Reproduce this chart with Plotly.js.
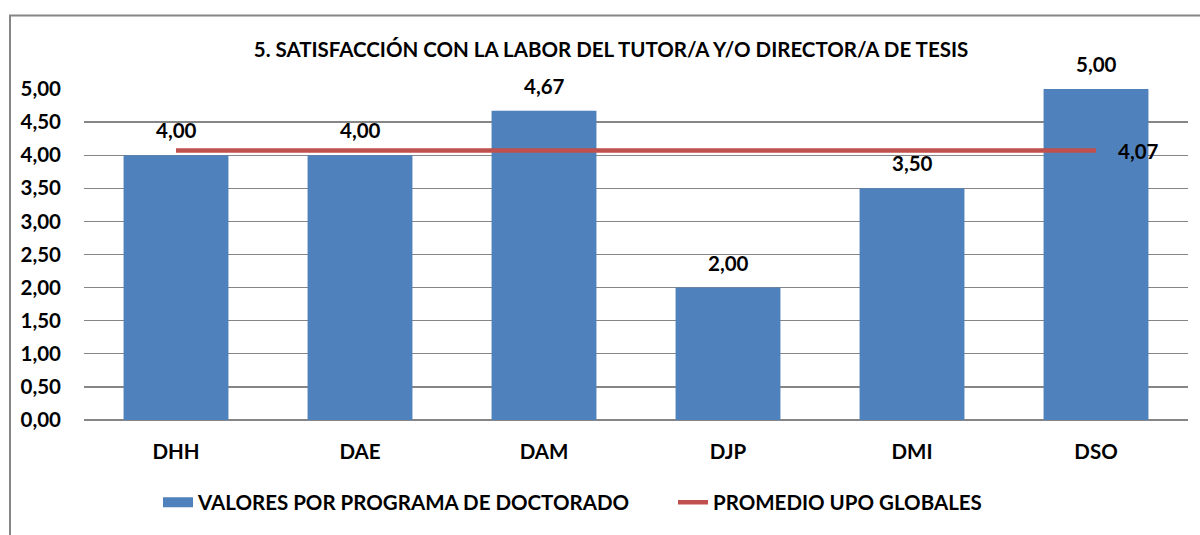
<!DOCTYPE html>
<html>
<head>
<meta charset="utf-8">
<script src="https://cdn.plot.ly/plotly-3.0.1.min.js"></script>
<style>
html,body{margin:0;padding:0;background:#fff;}
#chart{width:1200px;height:535px;}
</style>
</head>
<body>
<div id="chart"></div>
<script>
const categories = ["DHH", "DAE", "DAM", "DJP", "DMI", "DSO"];
const programValues = [4.00, 4.00, 4.67, 2.00, 3.50, 5.00];
const globalAverage = 4.07;
const yTickValues = [0, 0.5, 1, 1.5, 2, 2.5, 3, 3.5, 4, 4.5, 5];
const chartTitle = "5. SATISFACCIÓN CON LA LABOR DEL TUTOR/A Y/O DIRECTOR/A DE TESIS";
const seriesNames = ["VALORES POR PROGRAMA DE DOCTORADO", "PROMEDIO UPO GLOBALES"];

const fmt = v => v.toFixed(2).replace(".", ",");
const FONT = "Lato, 'Open Sans', sans-serif";
const FS = 20.5;
const BLUE = "#4F81BD", RED = "#C0504D";

const bars = {
  type: "bar",
  x: categories,
  y: programValues,
  name: seriesNames[0],
  marker: {color: BLUE},
  showlegend: false,
  hoverinfo: "skip"
};

// legend entry for bars, drawn as a wide block
const barsLegend = {
  type: "scatter",
  mode: "lines",
  x: [null], y: [null],
  name: seriesNames[0],
  line: {color: BLUE, width: 13},
  hoverinfo: "skip"
};

const avgLine = {
  type: "scatter",
  mode: "lines",
  x: categories,
  y: categories.map(() => globalAverage),
  name: seriesNames[1],
  line: {color: RED, width: 4.5},
  hoverinfo: "skip"
};

const labelAnnotations = categories.map((c, i) => ({
  x: c, y: programValues[i], xref: "x", yref: "y",
  text: fmt(programValues[i]),
  showarrow: false, xanchor: "center", yanchor: "bottom", yshift: 11,
  font: {family: FONT, size: FS, color: "#000", weight: "bold"}
}));

const layout = {
  width: 1200,
  height: 535,
  margin: {l: 84, r: 12, t: 89, b: 113},
  paper_bgcolor: "#fff",
  plot_bgcolor: "#fff",
  bargap: 0.43,
  showlegend: true,
  font: {family: FONT, color: "#000"},
  title: {
    text: chartTitle,
    font: {family: FONT, size: 20.5, color: "#000", weight: "bold"},
    x: 611 / 1200, xanchor: "center",
    y: 1 - 50 / 535, yanchor: "middle",
    xref: "container", yref: "container"
  },
  xaxis: {
    type: "category",
    tickfont: {family: FONT, size: FS, color: "#000", weight: "bold"},
    showgrid: false,
    showline: false,
    ticks: "",
    ticklabelstandoff: 17
  },
  yaxis: {
    range: [0, 5],
    tickvals: yTickValues,
    ticktext: yTickValues.map(fmt),
    tickfont: {family: FONT, size: FS, color: "#000", weight: "bold"},
    showgrid: true,
    gridcolor: "#868686",
    gridwidth: 1.3,
    zeroline: true,
    zerolinecolor: "#868686",
    zerolinewidth: 1.3,
    showline: false,
    ticks: "",
    ticklabelstandoff: 22
  },
  legend: {
    orientation: "h",
    x: 1, xanchor: "right",
    y: -0.249, yanchor: "middle",
    font: {family: FONT, size: FS, color: "#000", weight: "bold"},
    itemwidth: 30,
    entrywidth: 470,
    tracegroupgap: 0
  },
  annotations: labelAnnotations.concat([{
    x: categories[categories.length - 1],
    y: globalAverage,
    xref: "x", yref: "y",
    text: fmt(globalAverage),
    showarrow: false,
    xanchor: "left",
    yanchor: "middle",
    xshift: 20,
    font: {family: FONT, size: FS, color: "#000", weight: "bold"}
  }]),
  shapes: [{
    type: "rect",
    xref: "paper", yref: "paper",
    x0: (10 - 84) / 1104, x1: 1.2,
    y0: -0.6, y1: 1 + (89 - 15) / 333,
    line: {color: "#868686", width: 2},
    fillcolor: "rgba(0,0,0,0)",
    layer: "below"
  }]
};

Plotly.newPlot("chart", [bars, barsLegend, avgLine], layout, {displayModeBar: false, staticPlot: true});
</script>
</body>
</html>
